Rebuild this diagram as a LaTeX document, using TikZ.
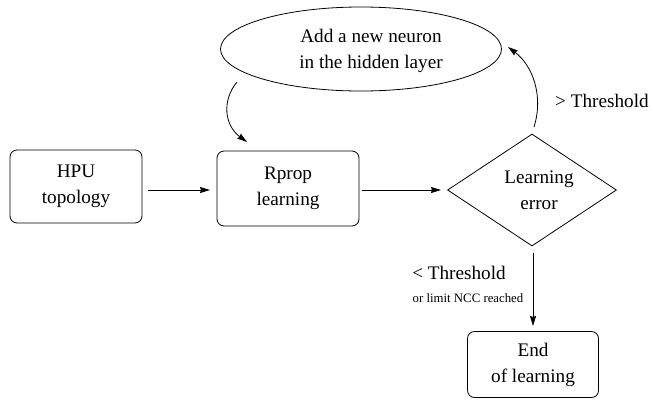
\documentclass[tikz,border=0pt]{standalone}
\usepackage{fontspec}
\setmainfont{LiberationSerif-Regular.ttf}
\usetikzlibrary{shapes.geometric,arrows.meta}
\begin{document}
\begin{tikzpicture}[x=1pt,y=-1pt,
  every node/.style={font=\fontsize{19.2}{26}\selectfont, inner sep=0pt},
  procbox/.style={draw, rounded corners=7pt, line width=0.8pt, align=center},
  decision/.style={draw, diamond, line width=0.8pt},
  oval/.style={draw, ellipse, line width=0.8pt},
  caption/.style={align=center},
  smallcap/.style={font=\fontsize{12.8}{15}\selectfont},
  flow/.style={line width=0.8pt, -{Stealth[length=10pt,width=6pt,inset=1pt]}}]
\useasboundingbox (0,0) rectangle (652,402);

% process boxes
\node[procbox, minimum width=132pt, minimum height=73pt] (hpu) at (76,186.5) {HPU\\topology};
\node[procbox, minimum width=142pt, minimum height=75pt] (rprop) at (288,188.5) {Rprop\\learning};
\node[procbox, minimum width=131pt, minimum height=66pt] (stop) at (533,364.5) {End\\of learning};

% decision
\node[decision, minimum width=169pt, minimum height=112pt,
      label={[caption, xshift=7pt]center:Learning\\error}] (err) at (532,190) {};

% neuron insertion
\node[oval, minimum width=281pt, minimum height=84pt,
      label={[caption, xshift=10pt, yshift=-2pt]center:Add a new neuron\\in the hidden layer}] (grow) at (361,49) {};

% connectors
\coordinate (hpuout) at (148,190);
\coordinate (rpin) at (210,190);
\coordinate (rpout) at (362,190);
\coordinate (errin) at (441,190);
\draw[flow] (hpuout) -- (rpin);
\draw[flow] (rpout) -- (errin);

\coordinate (errtop) at (534,127);
\coordinate (growin) at (508,47);
\draw[flow] (errtop) .. controls (544,95) and (532,65) .. (growin);

\coordinate (growout) at (237,82);
\coordinate (rptop) at (247,142);
\draw[flow] (growout) .. controls (222,100) and (224,125) .. (rptop);

\coordinate (errbot) at (533,253);
\coordinate (stopin) at (533,326);
\draw[flow] (errbot) -- (stopin);

% branch labels
\node[anchor=west] (gt) at (555,101) {> Threshold};
\node (lt) at (459,273) {< Threshold};
\node[smallcap] (ncc) at (468,298) {or limit NCC reached};
\end{tikzpicture}
\end{document}
